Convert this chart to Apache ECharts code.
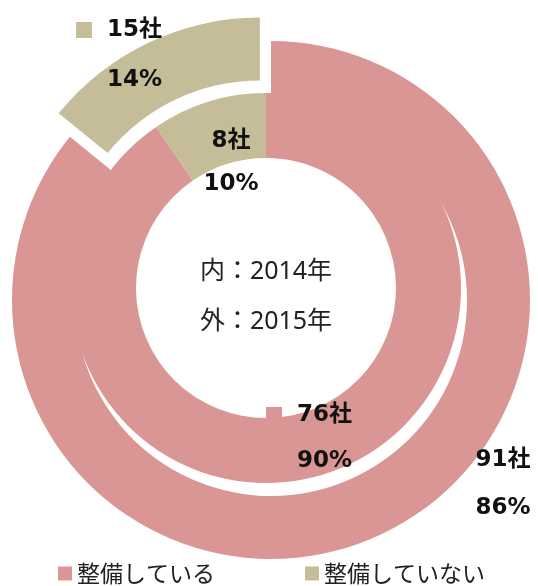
<!DOCTYPE html>
<html>
<head>
<meta charset="utf-8">
<script src="https://cdn.jsdelivr.net/npm/echarts@6/dist/echarts.min.js"></script>
<style>
html,body{margin:0;padding:0;background:#fff;}
#chart{width:538px;height:586px;}
</style>
</head>
<body>
<div id="chart"></div>
<script>
// ---- data ----
const categories = ['整備している', '整備していない'];
const years = [2014, 2015];           // inner ring, outer ring
const inner2014 = [76, 8];
const outer2015 = [91, 15];
const unit = '社';

// ---- styles ----
const colors = ['#D99694', '#C4BD97'];
const clear = 'rgba(0,0,0,0)';
const labelFont = '"DejaVu Sans", "Noto Sans CJK JP", sans-serif';
const cjkFont = '"Noto Sans CJK JP", sans-serif';
const centerFont = '"Noto Sans", "Noto Sans CJK JP", sans-serif';

const outerCenter = [271, 300];
const innerCenter = [266, 288];
const explode = 26;     // pull-out distance of the outer "not" slice (px)
const explodedIndex = 1;

// label block centres [x, y]
const labelPos = {
  outer: [[503, 484], [119, 55]],
  inner: [[309, 438], [231, 163]]
};
const lineH = { outer: [48, 50], inner: [46, 43] };
const keyed = { outer: [false, true], inner: [true, false] };

const rich = {
  b: { fontFamily: labelFont, fontWeight: 'bold', fontSize: 23, color: '#111' },
  k0: { width: 16, height: 16, backgroundColor: colors[0] },
  k1: { width: 16, height: 16, backgroundColor: colors[1] },
  g: { width: 15 },
  sp: { width: 31 }
};

// shift of the exploded slice along its bisector (slice runs counter-clockwise from 12 o'clock)
const outerTotal = outer2015.reduce((a, b) => a + b, 0);
const midRad = (outer2015[explodedIndex] / outerTotal) * Math.PI; // half of slice angle
const explodedCenter = [
  outerCenter[0] - Math.sin(midRad) * explode,
  outerCenter[1] - Math.cos(midRad) * explode
];

function makeData(values, ring, visibleFn) {
  return categories.map((name, i) => {
    const vis = visibleFn(i);
    return {
      name: name,
      value: values[i],
      itemStyle: { color: vis ? colors[i] : clear },
      label: {
        show: vis,
        rich: Object.assign({}, rich, {
          b: Object.assign({}, rich.b, { lineHeight: lineH[ring][i] })
        })
      }
    };
  });
}

function fmt(ring) {
  return function (p) {
    const pct = Math.round(p.percent);
    if (keyed[ring][p.dataIndex]) {
      return '{k' + p.dataIndex + '| }{g| }{b|' + p.value + unit + '}\n{sp| }{b|' + pct + '%}';
    }
    return '{b|' + p.value + unit + '}\n{b|' + pct + '%}';
  };
}

function layoutFor(ring) {
  return function (p) {
    const pos = labelPos[ring][p.dataIndex];
    return { x: pos[0], y: pos[1], align: 'center', verticalAlign: 'middle' };
  };
}

function pieBase(ring, center, radius, z) {
  return {
    type: 'pie',
    center: center,
    radius: radius,
    startAngle: 90,
    clockwise: true,
    percentPrecision: 0,
    avoidLabelOverlap: false,
    silent: true,
    emphasis: { disabled: true },
    label: { show: true, position: 'inside', formatter: fmt(ring) },
    labelLine: { show: false },
    labelLayout: layoutFor(ring),
    z: z
  };
}

const chart = echarts.init(document.getElementById('chart'), null, { renderer: 'canvas' });
chart.setOption({
  animation: false,
  backgroundColor: '#fff',
  legend: {
    data: categories.map((n, i) => ({ name: n, itemStyle: { color: colors[i] } })),
    left: 53,
    top: 557,
    icon: 'rect',
    itemWidth: 14,
    itemHeight: 14,
    itemGap: 90,
    selectedMode: false,
    textStyle: { fontFamily: cjkFont, fontSize: 23, color: '#222' }
  },
  graphic: [
    { type: 'text', style: { text: '内：' + years[0] + '年', x: 266, y: 272, textAlign: 'center', textVerticalAlign: 'middle', font: '25px ' + centerFont, fill: '#222' } },
    { type: 'text', style: { text: '外：' + years[1] + '年', x: 266, y: 322, textAlign: 'center', textVerticalAlign: 'middle', font: '25px ' + centerFont, fill: '#222' } }
  ],
  series: [
    Object.assign(pieBase('outer', outerCenter, [196, 259], 1), {
      name: years[1] + '',
      data: makeData(outer2015, 'outer', i => i !== explodedIndex)
    }),
    Object.assign(pieBase('outer', explodedCenter, [196, 259], 1), {
      name: years[1] + ' (pulled out)',
      data: makeData(outer2015, 'outer', i => i === explodedIndex)
    }),
    Object.assign(pieBase('inner', innerCenter, [130, 195], 2), {
      name: years[0] + '',
      data: makeData(inner2014, 'inner', () => true)
    })
  ]
});
</script>
</body>
</html>
